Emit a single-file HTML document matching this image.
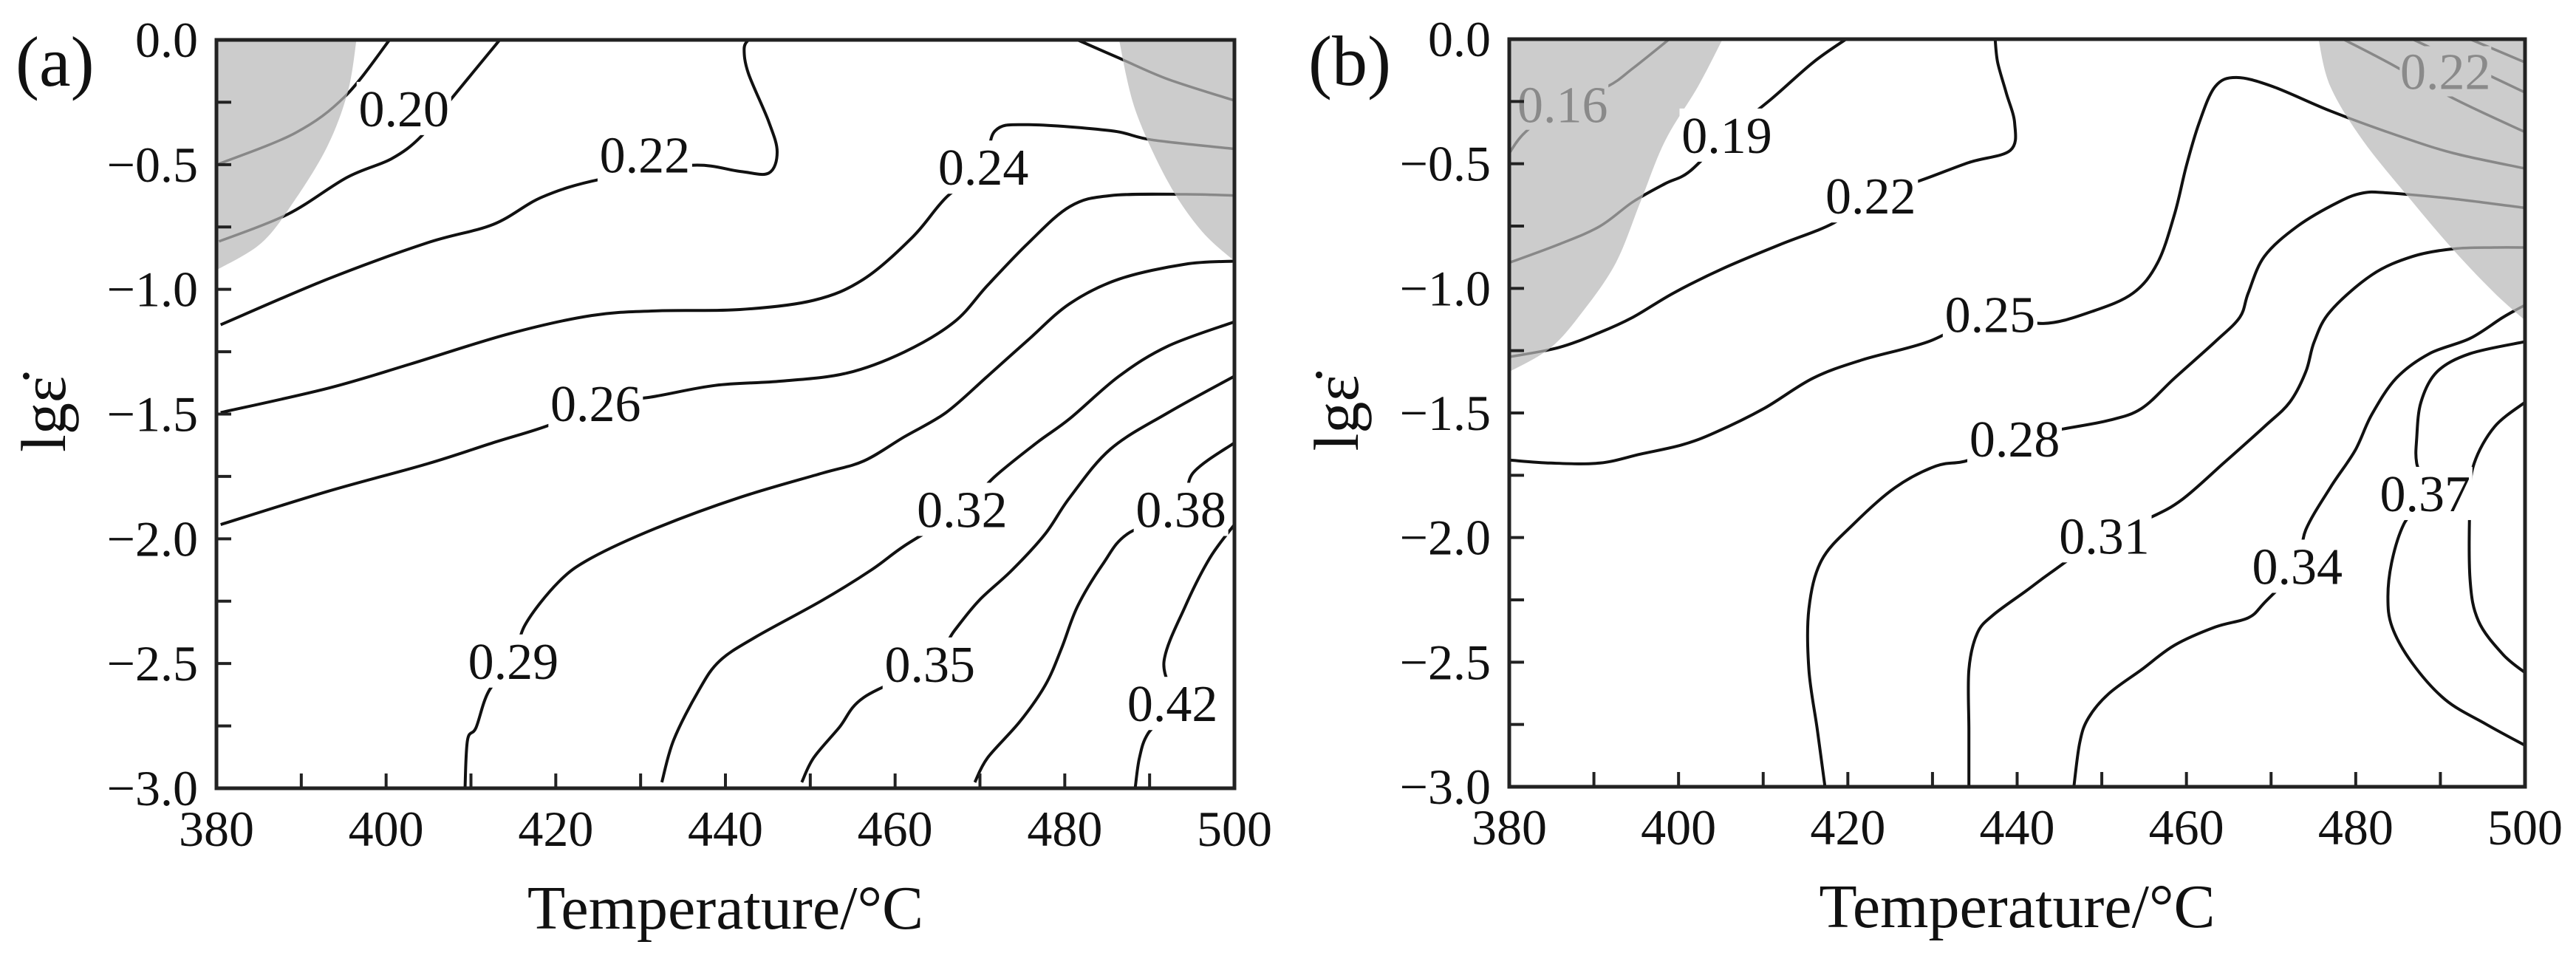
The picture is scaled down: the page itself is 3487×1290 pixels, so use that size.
<!DOCTYPE html>
<html><head><meta charset="utf-8">
<style>
html,body{margin:0;padding:0;background:#fff;}
svg{display:block;}
svg text{font-family:"Liberation Serif","DejaVu Serif",serif;}
</style></head>
<body>
<svg id="chart" width="3487" height="1290" viewBox="0 0 3487 1290" xmlns="http://www.w3.org/2000/svg" font-family="Liberation Serif, DejaVu Serif, serif"></svg>
<script>
// ---- Panel (a) data: [temperature °C, lg strain rate]
const shadeA_left = [[396.5,0],[395.5,-0.206],[393.1,-0.425],[389.2,-0.644],[385.3,-0.814],[380,-0.923]];
const shadeA_right = [[486.4,0],[488.3,-0.279],[492.2,-0.571],[496.1,-0.765],[500,-0.887]];
const contA_018 = [[400.4,0],[395.2,-0.225],[389.3,-0.373],[380.3,-0.497]];
const contA_020 = [[413.4,0],[407.6,-0.24],[404.1,-0.388],[400.6,-0.477],[395.4,-0.551],[388.4,-0.699],[380.3,-0.808]];
const contA_022 = [[380.5,-1.142],[393.1,-0.959],[404.8,-0.814],[412.6,-0.74],[418.4,-0.63],[425.2,-0.559],[435.9,-0.503],[441.7,-0.527],[445.1,-0.534],[446.1,-0.449],[445.1,-0.328],[442.7,-0.134],[442.2,-0.036],[442.7,0]];
const contA_024 = [[380.5,-1.494],[393.1,-1.397],[402.8,-1.3],[414.5,-1.178],[424.2,-1.105],[432.0,-1.086],[441.7,-1.081],[450.4,-1.044],[456.3,-0.959],[462.1,-0.789],[466.0,-0.632],[470.4,-0.51],[471.8,-0.364],[475.7,-0.34],[485.4,-0.364],[490.3,-0.401],[500,-0.437]];
const contA_gray = [[481.5,0],[486.4,-0.073],[492.2,-0.158],[500,-0.243]];
const contA_026 = [[380.5,-1.943],[393.1,-1.81],[404.8,-1.7],[412.6,-1.615],[419.4,-1.542],[424.7,-1.457],[431.0,-1.433],[438.8,-1.385],[446.6,-1.368],[454.3,-1.336],[461.1,-1.251],[467.0,-1.13],[470.9,-0.984],[475.7,-0.814],[480.6,-0.668],[485.4,-0.624],[494.2,-0.619],[500,-0.624]];
const contA_029 = [[409.3,-3],[409.6,-2.806],[410.6,-2.757],[412.1,-2.611],[415,-2.49],[416.4,-2.344],[420.3,-2.174],[424.2,-2.077],[432.0,-1.955],[441.7,-1.834],[451.4,-1.737],[456.3,-1.688],[461.1,-1.591],[466.0,-1.494],[470.9,-1.348],[475.7,-1.202],[480.6,-1.057],[486.4,-0.959],[494.2,-0.899],[500,-0.887]];
const contA_032 = [[432.5,-2.976],[433.9,-2.806],[436.8,-2.611],[439.3,-2.49],[443.6,-2.393],[451.4,-2.247],[457.2,-2.125],[461.1,-2.028],[467.9,-1.882],[471.8,-1.749],[476.7,-1.615],[480.6,-1.518],[486.4,-1.348],[492.2,-1.227],[500,-1.13]];
const contA_035 = [[449.0,-2.976],[450.4,-2.878],[453.4,-2.757],[456.3,-2.636],[464.1,-2.502],[467.0,-2.368],[469.9,-2.247],[473.8,-2.125],[477.7,-1.98],[480.6,-1.834],[485.4,-1.64],[492.2,-1.494],[500,-1.348]];
const contA_038 = [[469.4,-2.976],[470.9,-2.878],[474.7,-2.733],[477.7,-2.587],[479.6,-2.441],[481.5,-2.271],[484.5,-2.101],[487.4,-1.98],[493.7,-1.882],[495.1,-1.737],[500,-1.615]];
const contA_042 = [[488.3,-3],[488.8,-2.878],[489.8,-2.781],[492.7,-2.66],[491.7,-2.49],[494.2,-2.271],[497.1,-2.077],[500,-1.943]];
const labelsA_text = ["0.20","0.22","0.24","0.26","0.29","0.32","0.35","0.38","0.42"];
const labelsA_pos = [[402.1,-0.275],[430.5,-0.461],[470.4,-0.51],[424.7,-1.457],[415,-2.49],[467.9,-1.882],[464.1,-2.502],[493.7,-1.882],[492.7,-2.66]];

// ---- Panel (b) data
const shadeB_left = [[405.2,0],[402.3,-0.19],[398.4,-0.409],[395.5,-0.653],[392.6,-0.897],[388.7,-1.092],[384.9,-1.238],[380,-1.335]];
const shadeB_right = [[475.6,0],[477.0,-0.19],[480.9,-0.409],[486.7,-0.653],[491.6,-0.848],[496.4,-1.019],[500,-1.128]];
const contB_016 = [[398.9,0],[394.6,-0.117],[391.6,-0.19],[386.3,-0.263],[381.9,-0.373],[380,-0.458]];
const contB_019 = [[380,-0.897],[385.8,-0.824],[390.7,-0.751],[394.6,-0.653],[398.4,-0.58],[401.3,-0.531],[405.7,-0.385],[411.0,-0.239],[415.9,-0.093],[419.8,0]];
const contB_022 = [[380,-1.275],[385.8,-1.238],[390.7,-1.177],[394.6,-1.116],[399.4,-1.019],[405.2,-0.921],[412.0,-0.824],[418.3,-0.738],[422.7,-0.629],[428.5,-0.568],[434.3,-0.495],[439.2,-0.446],[439.7,-0.336],[438.7,-0.214],[437.7,-0.093],[437.4,0]];
const contB_025 = [[380,-1.689],[384.9,-1.701],[390.7,-1.701],[395.5,-1.665],[400.4,-1.628],[404.3,-1.579],[410.1,-1.482],[415.9,-1.36],[421.7,-1.287],[429.5,-1.214],[436.8,-1.104],[443.1,-1.141],[448.9,-1.092],[453.7,-1.019],[456.6,-0.897],[458.6,-0.702],[460.0,-0.507],[461.5,-0.336],[463.4,-0.19],[465.9,-0.154],[470.2,-0.19],[477.0,-0.288],[484.8,-0.385],[491.6,-0.458],[500,-0.519]];
const contB_028 = [[417.3,-3],[416.4,-2.773],[415.4,-2.53],[415.4,-2.286],[416.9,-2.091],[420.7,-1.945],[425.6,-1.799],[430.4,-1.713],[434.3,-1.689],[439.7,-1.604],[445.0,-1.567],[450.8,-1.53],[454.7,-1.482],[458.6,-1.36],[463.4,-1.214],[466.3,-1.116],[467.3,-1.019],[469.2,-0.872],[473.1,-0.751],[478.0,-0.653],[480.9,-0.617],[483.8,-0.617],[491.6,-0.641],[500,-0.677]];
const contB_031 = [[434.3,-3],[434.3,-2.773],[434.3,-2.53],[435.3,-2.383],[437.2,-2.31],[441.1,-2.213],[444.0,-2.14],[450.3,-1.993],[455.7,-1.92],[459.5,-1.847],[464.4,-1.701],[469.2,-1.555],[472.2,-1.457],[474.1,-1.335],[475.1,-1.214],[477.0,-1.092],[481.9,-0.946],[486.7,-0.872],[491.6,-0.841],[496.4,-0.836],[500,-0.836]];
const contB_034 = [[446.7,-3],[447.4,-2.822],[448.4,-2.725],[450.8,-2.627],[454.7,-2.53],[458.6,-2.432],[463.4,-2.359],[467.3,-2.322],[469.2,-2.262],[473.1,-2.115],[474.1,-1.969],[477.0,-1.799],[479.9,-1.652],[481.9,-1.506],[484.8,-1.36],[488.7,-1.262],[493.5,-1.201],[497.4,-1.116],[500,-1.067]];
const contB_037 = [[500,-1.214],[493.5,-1.262],[489.6,-1.335],[487.7,-1.457],[487.2,-1.604],[487.2,-1.701],[488.2,-1.823],[485.7,-1.945],[484.3,-2.091],[483.8,-2.237],[484.3,-2.359],[486.7,-2.505],[490.6,-2.651],[495.4,-2.749],[500,-2.834]];
const contB_040 = [[500,-1.457],[496.4,-1.555],[494.0,-1.701],[493.5,-1.847],[493.5,-2.164],[494.5,-2.335],[497.4,-2.469],[500,-2.542]];
const contB_g1 = [[478.5,0],[483.8,-0.093],[491.6,-0.239],[500,-0.373]];
const contB_g2 = [[486.7,0],[492.5,-0.093],[500,-0.214]];
const contB_g3 = [[493.5,0],[500,-0.093]];
const labelsB_text = ["0.19","0.22","0.25","0.28","0.31","0.34","0.37"];
const labelsB_pos = [[405.7,-0.385],[422.7,-0.629],[436.8,-1.104],[439.7,-1.604],[450.3,-1.993],[473.1,-2.115],[488.2,-1.823]];
const labelsB_gray_text = ["0.16","0.22"];
const labelsB_gray_pos = [[386.3,-0.263],[490.6,-0.129]];

const xTicks = [380,400,420,440,460,480,500];
const yTicks = [0,-0.5,-1,-1.5,-2,-2.5,-3];
const yTickLabels = ["0.0","\u22120.5","\u22121.0","\u22121.5","\u22122.0","\u22122.5","\u22123.0"];

const NS = "http://www.w3.org/2000/svg";
const FONT = '"Liberation Serif", "DejaVu Serif", serif';
const svg = document.getElementById('chart');
function mk(tag, attrs, parent){const e=document.createElementNS(NS,tag);for(const k in attrs)e.setAttribute(k,attrs[k]);if(tag==='text')e.setAttribute('font-family',FONT);(parent||svg).appendChild(e);return e;}

function makeAxes(box){
  return {
    x: t => box.x0 + (t-380)/120*(box.x1-box.x0),
    y: v => box.y0 + (0-v)/3*(box.y1-box.y0)
  };
}
function smoothPath(pts, ax){
  const p = pts.map(d=>[ax.x(d[0]), ax.y(d[1])]);
  let s = "M"+p[0][0].toFixed(1)+","+p[0][1].toFixed(1);
  for(let i=0;i<p.length-1;i++){
    const p0=p[Math.max(0,i-1)], p1=p[i], p2=p[i+1], p3=p[Math.min(p.length-1,i+2)];
    const c1=[p1[0]+(p2[0]-p0[0])/6, p1[1]+(p2[1]-p0[1])/6];
    const c2=[p2[0]-(p3[0]-p1[0])/6, p2[1]-(p3[1]-p1[1])/6];
    s+=" C"+c1[0].toFixed(1)+","+c1[1].toFixed(1)+" "+c2[0].toFixed(1)+","+c2[1].toFixed(1)+" "+p2[0].toFixed(1)+","+p2[1].toFixed(1);
  }
  return s;
}

function drawPanel(id, box, shades, contours, labels, grayLabels, tag){
  const ax = makeAxes(box);
  const g = mk('g',{});
  
  
  const clipId = 'clip-'+id, shadeClip='shade-'+id;
  const defs = mk('defs',{},g);
  const cp = mk('clipPath',{id:clipId},defs);
  mk('rect',{x:box.x0,y:box.y0,width:box.x1-box.x0,height:box.y1-box.y0},cp);
  const sc = mk('clipPath',{id:shadeClip},defs);
  const shadeD = [];
  shades.forEach(sh=>{
    const d = smoothPath(sh.pts, ax)+" L"+ax.x(sh.corner[0])+","+ax.y(sh.corner[1])+" Z";
    shadeD.push(d);
    mk('path',{d:d},sc);
  });
  const inner = mk('g',{'clip-path':'url(#'+clipId+')'},g);
  contours.forEach(c=>{
    const p = mk('path',{d:smoothPath(c.pts,ax),fill:'none',stroke:'#111',"stroke-width":4},inner);
    
    
  });
  shadeD.forEach(d=>{
    const p = mk('path',{d:d,fill:'#cccccc',stroke:'none'},inner);
    
    
  });
  const gg = mk('g',{'clip-path':'url(#'+shadeClip+')'},inner);
  contours.forEach(c=>{
    const p = mk('path',{d:smoothPath(c.pts,ax),fill:'none',stroke:'#888',"stroke-width":3.5},gg);
    
    
  });
  labels.forEach(l=>{
    const cx=ax.x(l.pos[0]), cy=ax.y(l.pos[1]);
    mk('rect',{x:cx-64,y:cy-36,width:128,height:72,fill:'#fff'},inner);
    const t = mk('text',{x:cx,y:cy+24,'text-anchor':'middle','font-size':70,fill:'#111'},inner);
    t.textContent = l.text;
    
    
  });
  grayLabels.forEach(l=>{
    const cx=ax.x(l.pos[0]), cy=ax.y(l.pos[1]);
    mk('rect',{x:cx-62,y:cy-34,width:124,height:68,fill:'#cccccc'},inner);
    const t = mk('text',{x:cx,y:cy+24,'text-anchor':'middle','font-size':70,fill:'#8a8a8a'},inner);
    t.textContent = l.text;
    
    
  });
  const fr = mk('rect',{x:box.x0,y:box.y0,width:box.x1-box.x0,height:box.y1-box.y0,fill:'none',stroke:'#222','stroke-width':5},g);
  
  
  for(let t=380;t<=500;t+=10){
    const x=ax.x(t);
    mk('line',{x1:x,y1:box.y1,x2:x,y2:box.y1-20,stroke:'#222','stroke-width':4},g);
  }
  for(let v=0;v>=-3;v-=0.25){
    const y=ax.y(v);
    mk('line',{x1:box.x0,y1:y,x2:box.x0+20,y2:y,stroke:'#222','stroke-width':4},g);
  }
  xTicks.forEach(t=>{
    const e=mk('text',{x:ax.x(t),y:box.y1+78,'text-anchor':'middle','font-size':68,fill:'#111'},g);
    e.textContent=String(t);
    
    
  });
  yTicks.forEach((v,i)=>{
    const e=mk('text',{x:box.x0-25,y:ax.y(v)+23,'text-anchor':'end','font-size':68,fill:'#111'},g);
    e.textContent=yTickLabels[i];
    
    
  });
  const xt=mk('text',{x:(box.x0+box.x1)/2,y:box.y1+190,'text-anchor':'middle','font-size':84,fill:'#111'},g);
  xt.textContent='Temperature/°C';
  
  
  const yx = box.x0-205, yy=(box.y0+box.y1)/2;
  const yt=mk('text',{x:yx,y:yy,'text-anchor':'middle','font-size':86,fill:'#111',transform:'rotate(-90 '+yx+' '+yy+')'},g);
  yt.textContent='lgε\u0307';
  
  
  const pl=mk('text',{x:box.x0-272,y:box.y0+62,'font-size':96,fill:'#111'},g);
  pl.textContent=tag;
  
  
}

const toLabels=(txt,pos)=>txt.map((t,i)=>({text:t,pos:pos[i]}));

drawPanel('a',{x0:293,x1:1671,y0:54,y1:1067},
  [{pts:shadeA_left,corner:[380,0]},{pts:shadeA_right,corner:[500,0]}],
  [{name:'0.18',pts:contA_018},{name:'0.20',pts:contA_020},{name:'0.22',pts:contA_022},{name:'0.24',pts:contA_024},{name:'0.26',pts:contA_026},{name:'0.29',pts:contA_029},{name:'0.32',pts:contA_032},{name:'0.35',pts:contA_035},{name:'0.38',pts:contA_038},{name:'0.42',pts:contA_042},{name:'gray-top',pts:contA_gray}],
  toLabels(labelsA_text,labelsA_pos),[],'(a)');

drawPanel('b',{x0:2043,x1:3418,y0:53,y1:1065},
  [{pts:shadeB_left,corner:[380,0]},{pts:shadeB_right,corner:[500,0]}],
  [{name:'0.16',pts:contB_016},{name:'0.19',pts:contB_019},{name:'0.22',pts:contB_022},{name:'0.25',pts:contB_025},{name:'0.28',pts:contB_028},{name:'0.31',pts:contB_031},{name:'0.34',pts:contB_034},{name:'0.37',pts:contB_037},{name:'0.40',pts:contB_040},{name:'g1',pts:contB_g1},{name:'g2',pts:contB_g2},{name:'g3',pts:contB_g3}],
  toLabels(labelsB_text,labelsB_pos),toLabels(labelsB_gray_text,labelsB_gray_pos),'(b)');
</script>
</body></html>
